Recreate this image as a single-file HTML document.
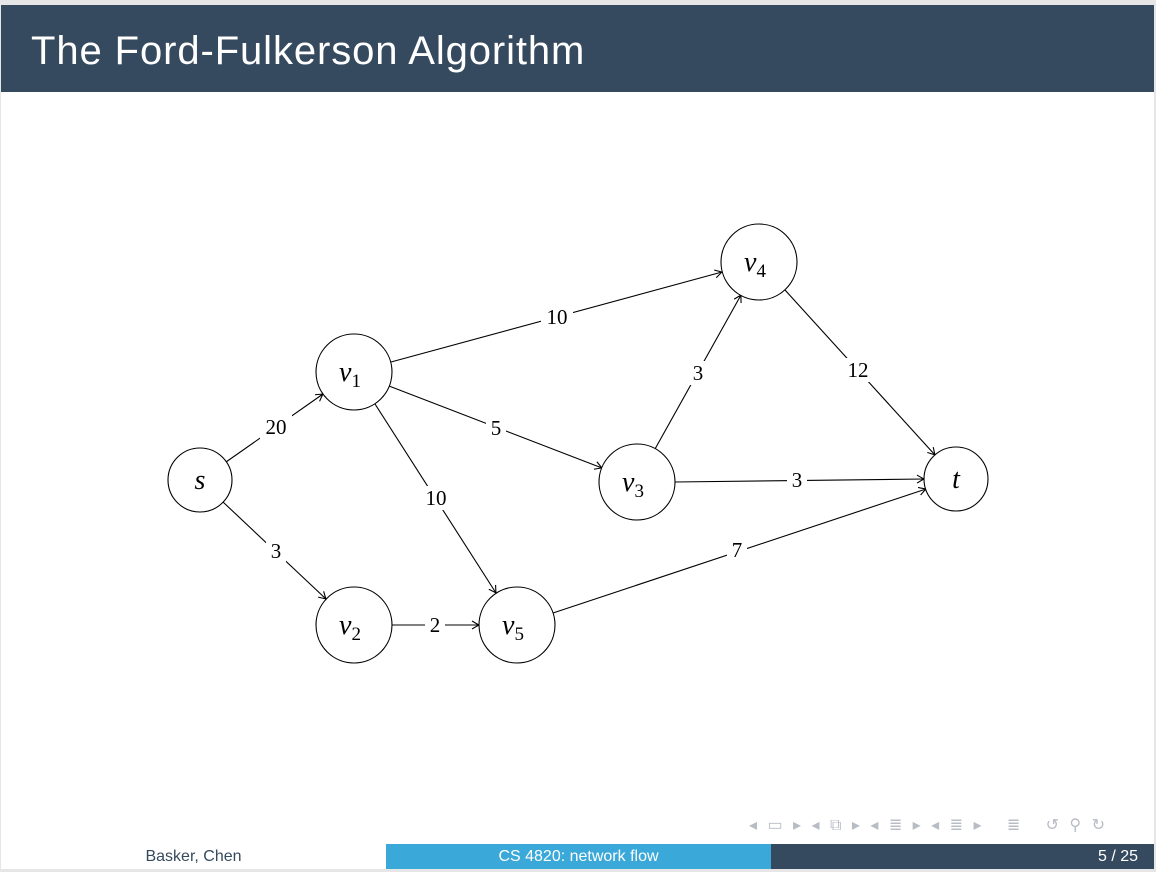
<!DOCTYPE html>
<html><head><meta charset="utf-8"><style>
html,body{margin:0;padding:0}
body{width:1156px;height:872px;position:relative;background:#e6e6e6;overflow:hidden;font-family:"Liberation Sans",sans-serif}
#page{position:absolute;left:1px;top:5px;width:1153px;height:864px;background:#fff}
#hdr{position:absolute;left:0;top:0;width:1153px;height:87px;background:#364a5f;color:#fff;font-size:40px;letter-spacing:0.9px;line-height:92px;padding-left:30px;box-sizing:border-box}
.f{position:absolute;top:839px;height:25px;line-height:25px;font-size:16px;text-align:center}
</style></head><body>
<div id="page">
<div id="hdr">The Ford-Fulkerson Algorithm</div>
<div class="f" style="left:0;width:385px;color:#364a5f">Basker, Chen</div>
<div class="f" style="left:385px;width:385px;background:#3aa8d8;color:#fff">CS 4820: network flow</div>
<div class="f" style="left:770px;width:383px;background:#364a5f;color:#fff;text-align:right;box-sizing:border-box;padding-right:16px">5 / 25</div>
<div style="position:absolute;left:748px;top:810px;font-size:16px;color:#b8bcc4;letter-spacing:3px;white-space:nowrap">◂ ▭ ▸ ◂ ⧉ ▸ ◂ ≣ ▸ ◂ ≣ ▸ &nbsp; ≣ &nbsp; ↺ ⚲ ↻</div>
</div>
<svg width="1156" height="872" style="position:absolute;left:0;top:0" font-family="Liberation Serif,serif">
<defs><marker id="a" markerWidth="12" markerHeight="12" refX="10" refY="6" orient="auto" markerUnits="userSpaceOnUse">
<path d="M3,2 Q8,5 10,6 Q8,7 3,10" fill="none" stroke="#000" stroke-width="1.1"/></marker></defs>
<g stroke="#000" stroke-width="1.1" fill="none" marker-end="url(#a)">
<line x1="226" y1="462" x2="323" y2="394"/>
<line x1="223" y1="502" x2="326" y2="599"/>
<line x1="391" y1="362" x2="722" y2="272"/>
<line x1="389" y1="386" x2="602" y2="468"/>
<line x1="375" y1="404" x2="496" y2="593"/>
<line x1="392" y1="625" x2="479" y2="625"/>
<line x1="655" y1="449" x2="741" y2="295"/>
<line x1="785" y1="290" x2="935" y2="455"/>
<line x1="675" y1="482" x2="924" y2="479"/>
<line x1="553" y1="613" x2="926" y2="489"/>
</g>
<g fill="#fff" stroke="#000" stroke-width="1.1">
<circle cx="200" cy="480" r="32"/><circle cx="354" cy="372" r="38"/><circle cx="354" cy="625" r="38"/>
<circle cx="517" cy="625" r="38"/><circle cx="637" cy="482" r="38"/><circle cx="759" cy="262" r="38"/><circle cx="956" cy="479" r="32"/>
</g>
<g font-size="21" text-anchor="middle">
<rect x="260" y="415" width="32" height="24" fill="#fff"/><text x="276" y="434">20</text>
<rect x="266" y="539" width="20" height="24" fill="#fff"/><text x="276" y="558">3</text>
<rect x="541" y="305" width="32" height="24" fill="#fff"/><text x="557" y="324">10</text>
<rect x="486" y="416" width="20" height="24" fill="#fff"/><text x="496" y="435">5</text>
<rect x="420" y="486" width="32" height="24" fill="#fff"/><text x="436" y="505">10</text>
<rect x="425" y="613" width="20" height="24" fill="#fff"/><text x="435" y="632">2</text>
<rect x="688" y="361" width="20" height="24" fill="#fff"/><text x="698" y="380">3</text>
<rect x="842" y="358" width="32" height="24" fill="#fff"/><text x="858" y="377">12</text>
<rect x="787" y="468" width="20" height="24" fill="#fff"/><text x="797" y="487">3</text>
<rect x="727" y="538" width="20" height="24" fill="#fff"/><text x="737" y="557">7</text>
</g>
<g font-size="28" font-style="italic" text-anchor="middle">
<text x="200" y="489">s</text><text x="956" y="488">t</text>
<text x="350" y="381">v<tspan font-size="19" font-style="normal" dy="6">1</tspan></text>
<text x="350" y="634">v<tspan font-size="19" font-style="normal" dy="6">2</tspan></text>
<text x="513" y="634">v<tspan font-size="19" font-style="normal" dy="6">5</tspan></text>
<text x="633" y="491">v<tspan font-size="19" font-style="normal" dy="6">3</tspan></text>
<text x="755" y="271">v<tspan font-size="19" font-style="normal" dy="6">4</tspan></text>
</g>
</svg>
</body></html>
